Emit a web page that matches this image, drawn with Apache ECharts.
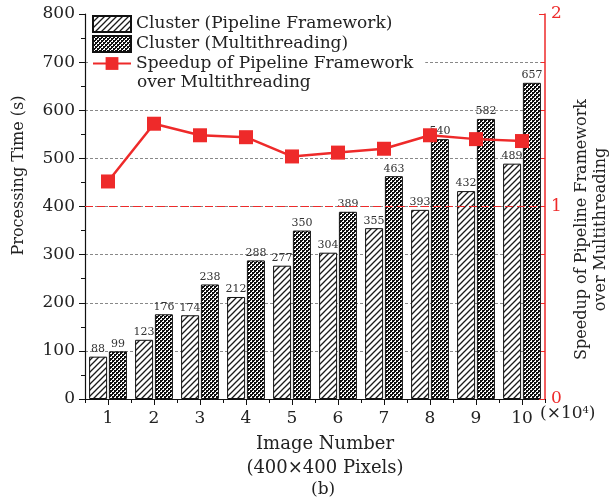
<!DOCTYPE html>
<html>
<head>
<meta charset="utf-8">
<script src="https://cdn.jsdelivr.net/npm/echarts@6/dist/echarts.min.js"></script>
<style>html,body{margin:0;padding:0;background:#fff;}#c{width:611px;height:504px;}</style>
</head>
<body>
<div id="c"></div>
<script>
const categories = ['1','2','3','4','5','6','7','8','9','10'];
const pipelineTime = [88,123,174,212,277,304,355,393,432,489];
const multithreadTime = [99,176,238,288,350,389,463,540,582,657];
const speedup = [1.13,1.43,1.37,1.36,1.26,1.28,1.30,1.37,1.35,1.34];
const seriesNames = ['Cluster (Pipeline Framework)','Cluster (Multithreading)','Speedup of Pipeline Framework'];
const legendSecondLine = 'over Multithreading';

const FONT = 'DejaVu Serif';
const RED = '#ee2a2a';

function hatch(){
  const s=6, c=document.createElement('canvas'); c.width=s; c.height=s;
  const x=c.getContext('2d'); x.fillStyle='#fff'; x.fillRect(0,0,s,s);
  x.strokeStyle='#1a1a1a'; x.lineWidth=1.3; x.beginPath();
  x.moveTo(0,s); x.lineTo(s,0);
  x.moveTo(-2,2); x.lineTo(2,-2);
  x.moveTo(s-2,s+2); x.lineTo(s+2,s-2);
  x.stroke(); return c;
}
function checker(){
  const s=4, c=document.createElement('canvas'); c.width=s; c.height=s;
  const x=c.getContext('2d'); x.fillStyle='#fff'; x.fillRect(0,0,s,s);
  x.fillStyle='#111'; x.fillRect(0,0,2,2); x.fillRect(2,2,2,2);
  x.fillRect(2,0,1,1); x.fillRect(0,2,1,1);
  return c;
}

const chart = echarts.init(document.getElementById('c'));
const grid = {left:85, right:66, top:14, bottom:105, containLabel:false, outerBoundsMode:'none'};
const labelStyle = {show:true, position:'top', distance:2, fontFamily:FONT, fontSize:11, color:'#333'};

chart.setOption({
  animation:false,
  textStyle:{fontFamily:FONT},
  grid:grid,
  legend:{
    left:88, top:12, orient:'vertical', backgroundColor:'#fff',
    padding:[3,12,26,4], itemGap:2, itemWidth:38, itemHeight:16,
    textStyle:{fontFamily:FONT, fontSize:17, color:'#222'},
    data:[
      {name:seriesNames[0], icon:'rect'},
      {name:seriesNames[1], icon:'rect'},
      {name:seriesNames[2]}
    ]
  },
  xAxis:[{
    type:'category', data:categories, boundaryGap:true,
    axisLine:{lineStyle:{color:'#111', width:1.2}},
    axisTick:{show:true, length:4, lineStyle:{color:'#111'}},
    axisLabel:{fontFamily:FONT, fontSize:17, color:'#222', margin:11},
    name:'Image Number\n(400×400 Pixels)', nameLocation:'middle', nameGap:32,
    nameTextStyle:{fontFamily:FONT, fontSize:18, color:'#222', lineHeight:24, padding:[0,0,0,20]}
  },{
    type:'category', data:categories, position:'bottom',
    axisLine:{show:false}, axisLabel:{show:false},
    axisTick:{show:true, alignWithLabel:true, length:6, lineStyle:{color:'#111'}}
  }],
  yAxis:[{
    type:'value', min:0, max:800, interval:100,
    axisLine:{show:true, lineStyle:{color:'#111', width:1.2}},
    axisTick:{show:true, length:6, lineStyle:{color:'#111'}},
    minorTick:{show:true, splitNumber:2, length:4, lineStyle:{color:'#111'}},
    axisLabel:{fontFamily:FONT, fontSize:17, color:'#222', margin:10},
    splitLine:{show:true, lineStyle:{type:[3,2], width:1,
      color:['rgba(0,0,0,0)','#888','#888','#888','#888','#888','#888','#888','rgba(0,0,0,0)']}},
    name:'Processing Time (s)', nameLocation:'middle', nameGap:58,
    nameTextStyle:{fontFamily:FONT, fontSize:16, color:'#222', padding:[0,0,0,62]}
  },{
    type:'value', min:0, max:2, interval:1, position:'right',
    axisLine:{show:true, lineStyle:{color:RED, width:1.5}},
    axisTick:{show:true, inside:true, length:6, lineStyle:{color:RED}},
    minorTick:{show:true, splitNumber:4, length:4, lineStyle:{color:RED}},
    axisLabel:{fontFamily:FONT, fontSize:17, color:RED, margin:6},
    splitLine:{show:false},
    name:'Speedup of Pipeline Framework\nover Multithreading', nameLocation:'middle', nameGap:27,
    nameRotate:90,
    nameTextStyle:{fontFamily:FONT, fontSize:16, color:'#222', lineHeight:19, padding:[0,46,0,0]}
  }],
  series:[{
    name:seriesNames[0], type:'bar', data:pipelineTime, barWidth:18, barGap:'10%',
    itemStyle:{color:{image:hatch(), repeat:'repeat'}, borderColor:'#111', borderWidth:1},
    label:labelStyle, z:2
  },{
    name:seriesNames[1], type:'bar', data:multithreadTime, barWidth:18,
    itemStyle:{color:{image:checker(), repeat:'repeat'}, borderColor:'#111', borderWidth:1},
    label:labelStyle, z:2
  },{
    name:seriesNames[2], type:'line', yAxisIndex:1, data:speedup,
    symbol:'rect', symbolSize:14, lineStyle:{color:RED, width:2.5},
    itemStyle:{color:RED}, z:5,
    markLine:{silent:true, symbol:'none', label:{show:false},
      lineStyle:{color:RED, type:[8,4], width:1.2}, data:[{yAxis:1}]}
  }],
  graphic:[
    {type:'text', left:137, top:74, z:100, style:{text:legendSecondLine, fontFamily:FONT, fontSize:17, fill:'#222'}},
    {type:'text', left:540, top:405, style:{
      text:'{a|(×10}{s|4}{a|)}',
      rich:{a:{fontFamily:FONT, fontSize:17, fill:'#222'}, s:{fontFamily:FONT, fontSize:10, fill:'#222', verticalAlign:'top', padding:[0,0,8,0]}}
    }},
    {type:'text', left:311, top:481, style:{text:'(b)', fontFamily:FONT, fontSize:17, fill:'#222'}}
  ]
});
</script>
</body>
</html>
